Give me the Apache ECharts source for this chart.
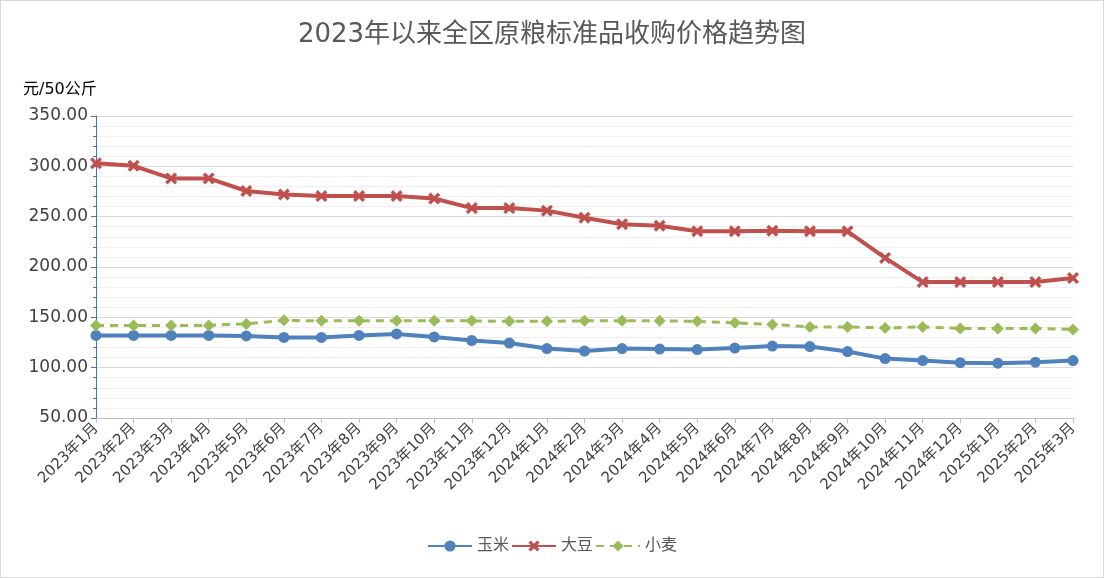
<!DOCTYPE html>
<html><head><meta charset="utf-8">
<script src="https://cdn.jsdelivr.net/npm/echarts@6/dist/echarts.min.js"></script>
<style>html,body{margin:0;padding:0}#c{width:1102px;height:576px;border:1px solid #d9d9d9}</style>
</head><body><div id="c"></div>
<script>
const categories=['2023年1月','2023年2月','2023年3月','2023年4月','2023年5月','2023年6月','2023年7月','2023年8月','2023年9月','2023年10月','2023年11月','2023年12月','2024年1月','2024年2月','2024年3月','2024年4月','2024年5月','2024年6月','2024年7月','2024年8月','2024年9月','2024年10月','2024年11月','2024年12月','2025年1月','2025年2月','2025年3月'];
const corn=[132,132,132,132,131.5,130,130,132,133.5,130.5,127,124.5,119,116.5,119,118.5,118,119.5,121.5,121,116,109,107,105,104.5,105.5,107];
const soybean=[303,300.5,288,288,275.5,272,270.5,270.5,270.5,268,258.5,258.5,256,249,242.5,241,235.5,235.5,236,235.5,235.5,209,185,185,185,185,189];
const wheat=[142,142,142,142,143.5,147,146.5,146.5,146.5,146.5,146.5,146,146,146.5,146.5,146.5,146,144.5,143,140.5,140.5,139.5,140.5,139,139,139,138];
const ch=echarts.init(document.getElementById('c'));
const F='"DejaVu Sans","Noto Sans CJK SC",sans-serif';
ch.setOption({
 animation:false,
 textStyle:{fontFamily:F},
 title:{text:'2023年以来全区原粮标准品收购价格趋势图',left:'center',top:16,textStyle:{fontSize:26,fontWeight:'normal',color:'#595959',fontFamily:F}},
 grid:{left:95,right:30,top:115,bottom:159},
 legend:{bottom:18,itemGap:2,itemWidth:44,textStyle:{fontSize:16,color:'#595959',fontFamily:F},data:['玉米','大豆','小麦']},
 xAxis:{type:'category',data:categories,boundaryGap:false,
  axisLine:{lineStyle:{color:'#bfbfbf'}},axisTick:{show:true,lineStyle:{color:'#bfbfbf'}},
  axisLabel:{rotate:45,fontSize:15,color:'#404040',interval:0,margin:8,fontFamily:F}},
 yAxis:{type:'value',min:50,max:350,interval:50,name:'元/50公斤',nameLocation:'end',nameGap:18,
  nameTextStyle:{fontSize:16,color:'#000',align:'left',padding:[0,0,0,-73],fontFamily:F},
  axisLine:{show:true,lineStyle:{color:'#4472c4'}},axisTick:{show:true,lineStyle:{color:'#4472c4'}},
  minorTick:{show:true,splitNumber:5,lineStyle:{color:'#4472c4'}},
  splitLine:{lineStyle:{color:'#d9d9d9'}},minorSplitLine:{show:true,lineStyle:{color:'#efefef'}},
  axisLabel:{fontSize:17,color:'#404040',fontFamily:F,formatter:v=>v.toFixed(2)}},
 series:[
  {name:'玉米',type:'line',data:corn,symbol:'circle',symbolSize:11,itemStyle:{color:'#4f81bd'},lineStyle:{width:4,color:'#4f81bd'}},
  {name:'大豆',type:'line',data:soybean,symbol:'path://M0,2 L2,0 L5,3 L8,0 L10,2 L7,5 L10,8 L8,10 L5,7 L2,10 L0,8 L3,5 Z',symbolSize:12,itemStyle:{color:'#c0504d'},lineStyle:{width:4,color:'#c0504d'}},
  {name:'小麦',type:'line',data:wheat,symbol:'diamond',symbolSize:12,itemStyle:{color:'#9bbb59'},lineStyle:{width:3,color:'#9bbb59',type:[8,6]}}
 ]
});
</script></body></html>
